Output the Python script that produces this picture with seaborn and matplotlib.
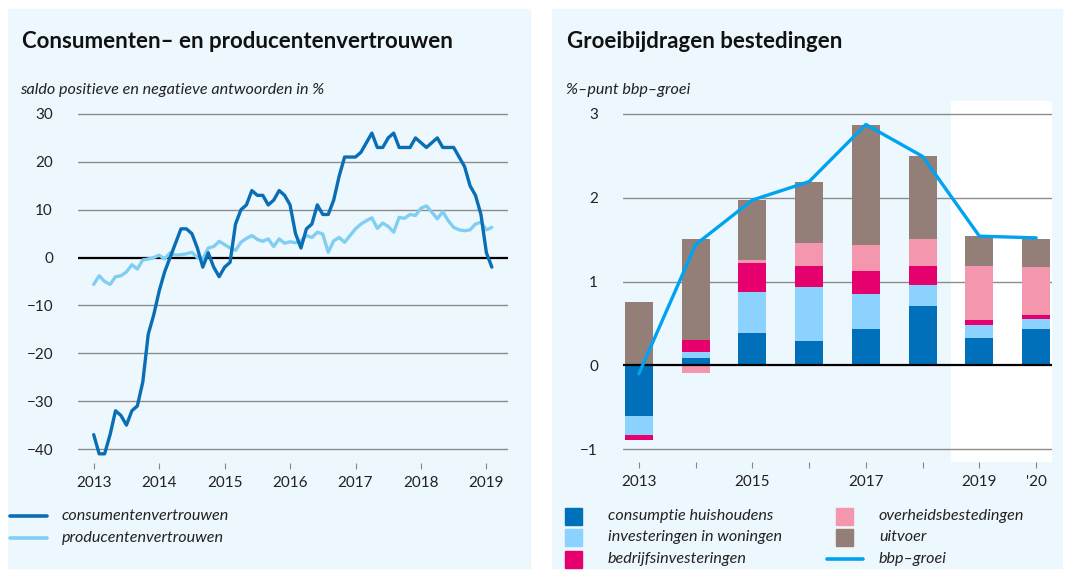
import matplotlib
matplotlib.use("Agg")
import matplotlib.pyplot as plt
from matplotlib.patches import Rectangle
from matplotlib.lines import Line2D
import numpy as np
import pandas as pd
import seaborn as sns

# -----------------------------
# Data: left chart (monthly, Jan 2013 - Feb 2019)
# -----------------------------
consumenten = [
    -37, -41, -41, -37, -32, -33, -35, -32, -31, -26, -16, -12,
    -7, -3, 0, 3, 6, 6, 5, 2, -2, 1, -2, -4,
    -2, -1, 7, 10, 11, 14, 13, 13, 11, 12, 14, 13,
    11, 5, 2, 6, 7, 11, 9, 9, 12, 17, 21, 21,
    21, 22, 24, 26, 23, 23, 25, 26, 23, 23, 23, 25,
    24, 23, 24, 25, 23, 23, 23, 21, 19, 15, 13, 9,
    1, -2,
]
producenten = [
    -5.6, -3.8, -5.0, -5.6, -4.0, -3.8, -3.0, -1.5, -2.4, -0.5, -0.3, 0.0,
    0.5, -0.3, 1.0, 0.5, 0.6, 0.8, 1.1, 0.0, -0.3, 2.0, 2.3, 3.4,
    2.7, 2.0, 1.5, 3.2, 4.0, 4.6, 3.8, 3.4, 3.9, 2.3, 3.9, 3.0,
    3.3, 3.1, 3.5, 4.6, 4.2, 5.3, 4.9, 1.1, 3.5, 4.2, 3.2, 4.6,
    6.0, 7.0, 7.7, 8.3, 6.1, 7.2, 6.5, 5.3, 8.4, 8.2, 9.0, 8.8,
    10.3, 10.8, 9.5, 8.1, 9.6, 7.7, 6.3, 5.8, 5.6, 5.8, 7.0, 7.4,
    5.8, 6.3,
]
jaren_links = [2013, 2014, 2015, 2016, 2017, 2018, 2019]
yticks_links = [-40, -30, -20, -10, 0, 10, 20, 30]

# -----------------------------
# Data: right chart (yearly contributions)
# -----------------------------
jaren = ["2013", "2014", "2015", "2016", "2017", "2018", "2019", "2020"]
jaar_labels = ["2013", "", "2015", "", "2017", "", "2019", "'20"]
consumptie = [-0.60, 0.09, 0.39, 0.29, 0.44, 0.71, 0.33, 0.43]
woningen = [-0.23, 0.07, 0.48, 0.65, 0.41, 0.25, 0.15, 0.12]
bedrijf = [-0.06, 0.14, 0.35, 0.25, 0.27, 0.23, 0.06, 0.05]
overheid = [0.02, -0.09, 0.04, 0.27, 0.32, 0.32, 0.64, 0.57]
uitvoer = [0.74, 1.21, 0.71, 0.73, 1.43, 0.99, 0.36, 0.34]
bbp_groei = [-0.1, 1.44, 1.97, 2.19, 2.87, 2.49, 1.54, 1.52]

# -----------------------------
# Style
# -----------------------------
sns.set_theme(style="white")
plt.rcParams["font.family"] = ["Lato", "DejaVu Sans"]

BG = "#EDF7FE"
GRID = "#8C8C8C"
TXT = "#222222"
C_CONS = "#0A6EB4"
C_PROD = "#80CFF2"
stack_colors = ["#0070BA", "#8CD2FF", "#E6006E", "#F396AE", "#937F77"]
C_BBP = "#00A3F0"

fig = plt.figure(figsize=(10.67, 5.71), dpi=100)
W, H = 1067, 571


def fx(px):
    return px / W


def fy(py):
    return 1 - py / H


# panel backgrounds
fig.patches.append(Rectangle((fx(8), fy(568)), 522 / W, 559 / H,
                             transform=fig.transFigure, color=BG, zorder=-10))
fig.patches.append(Rectangle((fx(552), fy(568)), 510 / W, 559 / H,
                             transform=fig.transFigure, color=BG, zorder=-10))

# -----------------------------
# Left chart
# -----------------------------
ax1 = fig.add_axes([fx(78), fy(463.4), 430 / W, 363.8 / H])
ax1.set_facecolor("none")

df_links = pd.DataFrame({
    "t": 2013 + np.arange(len(consumenten)) / 12,
    "consumenten": consumenten,
    "producenten": producenten,
})

for y in yticks_links:
    if y != 0:
        ax1.axhline(y, color=GRID, lw=1, zorder=1)
ax1.axhline(0, color="black", lw=1.6, zorder=2)

sns.lineplot(data=df_links, x="t", y="producenten", ax=ax1,
             color=C_PROD, lw=2.4, zorder=3)
sns.lineplot(data=df_links, x="t", y="consumenten", ax=ax1,
             color=C_CONS, lw=2.4, zorder=4)

ax1.set_xlim(2012.76, 2019.33)
ax1.set_ylim(-43, 33)
ax1.set_yticks(yticks_links)
ax1.set_yticklabels([str(v).replace("-", "\u2212") for v in yticks_links])
ax1.set_xticks(jaren_links)
ax1.set_xticklabels([str(j) for j in jaren_links])
ax1.set_xlabel("")
ax1.set_ylabel("")
for s in ax1.spines.values():
    s.set_visible(False)
ax1.tick_params(axis="y", length=0, pad=18, labelsize=11, labelcolor=TXT)
ax1.tick_params(axis="x", length=4, width=0.8, color="#888888", direction="out",
                pad=5, labelsize=11, labelcolor=TXT, bottom=True)

fig.text(fx(22), fy(48), "Consumenten\u2013 en producentenvertrouwen",
         fontsize=16, fontweight="bold", color="#111111", va="baseline")
fig.text(fx(20), fy(94), "saldo positieve en negatieve antwoorden in %",
         fontsize=11.6, style="italic", color=TXT, va="baseline")

# legend left (drawn by hand for exact placement)
for py, col, lab in [(516, C_CONS, "consumentenvertrouwen"),
                     (538, C_PROD, "producentenvertrouwen")]:
    fig.add_artist(Line2D([fx(10), fx(47)], [fy(py), fy(py)], color=col, lw=2.6,
                          transform=fig.transFigure))
    fig.text(fx(62), fy(py), lab, fontsize=11.6, style="italic", color=TXT,
             va="center")

# -----------------------------
# Right chart
# -----------------------------
ax2 = fig.add_axes([fx(623), fy(462), 429 / W, 361 / H])
ax2.set_facecolor("none")
ax2.axvspan(5.5, 7.3, color="white", zorder=0)

for y in [-1, 1, 2, 3]:
    ax2.axhline(y, color=GRID, lw=1, zorder=1)

series = [consumptie, woningen, bedrijf, overheid, uitvoer]
pos_base = np.zeros(len(jaren))
neg_base = np.zeros(len(jaren))
for vals, col in zip(series, stack_colors):
    vals = np.array(vals)
    bottom = np.where(vals >= 0, pos_base, neg_base)
    sns.barplot(x=jaren, y=vals, ax=ax2, color=col, width=0.49,
                bottom=bottom, saturation=1, edgecolor="none", zorder=3)
    pos_base = pos_base + np.clip(vals, 0, None)
    neg_base = neg_base + np.clip(vals, None, 0)

ax2.axhline(0, color="black", lw=1.6, zorder=4)
sns.lineplot(x=np.arange(len(jaren)), y=bbp_groei, ax=ax2,
             color=C_BBP, lw=2.4, zorder=5)

ax2.set_xlim(-0.28, 7.28)
ax2.set_ylim(-1.15, 3.15)
ax2.set_yticks([-1, 0, 1, 2, 3])
ax2.set_yticklabels(["\u22121", "0", "1", "2", "3"])
ax2.set_xticks(range(len(jaren)))
ax2.set_xticklabels(jaar_labels)
ax2.set_xlabel("")
ax2.set_ylabel("")
for s in ax2.spines.values():
    s.set_visible(False)
ax2.tick_params(axis="y", length=0, pad=18, labelsize=11, labelcolor=TXT)
ax2.tick_params(axis="x", length=4, width=0.8, color="#888888", direction="out",
                pad=5, labelsize=11, labelcolor=TXT, bottom=True)

fig.text(fx(567), fy(48), "Groeibijdragen bestedingen",
         fontsize=16, fontweight="bold", color="#111111", va="baseline")
fig.text(fx(566), fy(94), "%\u2013punt bbp\u2013groei",
         fontsize=11.6, style="italic", color=TXT, va="baseline")

# legend right (two columns, drawn by hand)
legend_items = [
    (565, 516, stack_colors[0], "consumptie huishoudens"),
    (565, 537, stack_colors[1], "investeringen in woningen"),
    (565, 559, stack_colors[2], "bedrijfsinvesteringen"),
    (836, 516, stack_colors[3], "overheidsbestedingen"),
    (836, 537, stack_colors[4], "uitvoer"),
]
for px, py, col, lab in legend_items:
    fig.patches.append(Rectangle((fx(px), fy(py + 8.5)), 17 / W, 17 / H,
                                 transform=fig.transFigure, color=col))
    fig.text(fx(px + 43), fy(py), lab, fontsize=11.6, style="italic",
             color=TXT, va="center")
fig.add_artist(Line2D([fx(827), fx(863)], [fy(559), fy(559)], color=C_BBP,
                      lw=2.6, transform=fig.transFigure))
fig.text(fx(879), fy(559), "bbp\u2013groei", fontsize=11.6, style="italic",
         color=TXT, va="center")

fig.savefig("out.png", dpi=100, facecolor="white")
